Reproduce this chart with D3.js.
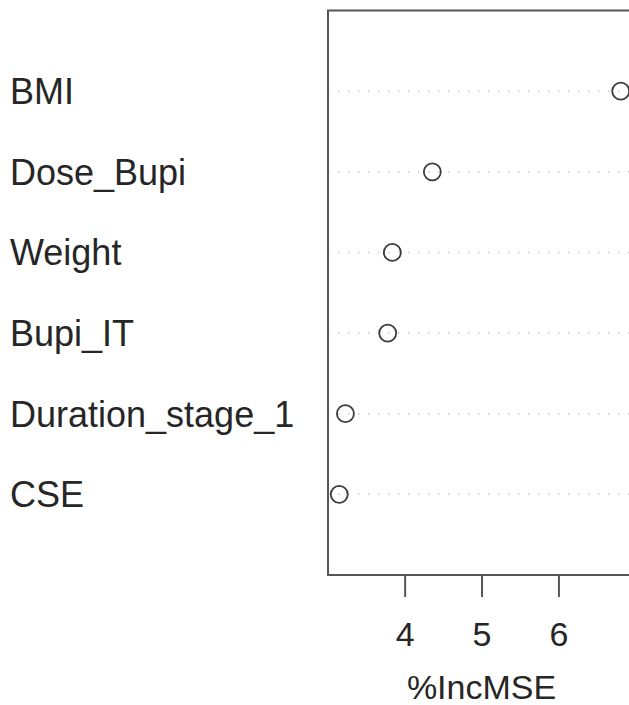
<!DOCTYPE html>
<html>
<head>
<meta charset="utf-8">
<script src="https://cdn.jsdelivr.net/npm/d3@7"></script>
<style>
  body { margin: 0; background: #fff; }
  text { font-family: "Liberation Sans", Arial, sans-serif; fill: #262626; }
</style>
</head>
<body>
<script>
// Data
var variables = ["BMI", "Dose_Bupi", "Weight", "Bupi_IT", "Duration_stage_1", "CSE"];
var incMSE = [6.81, 4.36, 3.84, 3.78, 3.23, 3.15];
var tickValues = [4, 5, 6];

var width = 629;
var height = 705;
var plotLeft = 328;
var plotTop = 10.5;
var plotBottom = 575;

// Skalaer (R dotchart: 4% extension of the data range)
var lo = d3.min(incMSE), hi = d3.max(incMSE);
var pad = (hi - lo) * 0.04;
var xScale = d3.scaleLinear().domain([lo - pad, hi + pad]).range([plotLeft, 632]);

// rows go from bottom (1) to top (n)
var n = variables.length;
var yScale = d3.scaleLinear().domain([0, n + 1]).range([plotBottom, plotTop]);
function rowY(i) {
  return yScale(n - i);
}

var svg = d3.select("body").append("svg").attr("width", width).attr("height", height);

// Dotted guide lines
svg.selectAll(".guide")
  .data(variables)
  .enter()
  .append("line")
  .attr("class", "guide")
  .attr("x1", plotLeft)
  .attr("x2", width)
  .attr("y1", function(d, i) { return rowY(i); })
  .attr("y2", function(d, i) { return rowY(i); })
  .attr("stroke", "#c8c8c8")
  .attr("stroke-width", 1.5)
  .attr("stroke-dasharray", "1.5,8.5");

// Frame
svg.append("rect")
  .attr("x", plotLeft)
  .attr("y", plotTop)
  .attr("width", 700)
  .attr("height", plotBottom - plotTop)
  .attr("fill", "none")
  .attr("stroke", "#555")
  .attr("stroke-width", 2);

// Points
svg.selectAll(".pt")
  .data(incMSE)
  .enter()
  .append("circle")
  .attr("class", "pt")
  .attr("cx", function(d) { return xScale(d); })
  .attr("cy", function(d, i) { return rowY(i); })
  .attr("r", 8.5)
  .attr("fill", "none")
  .attr("stroke", "#3a3a3a")
  .attr("stroke-width", 1.8);

// Labels
svg.selectAll(".lab")
  .data(variables)
  .enter()
  .append("text")
  .attr("class", "lab")
  .attr("x", 10)
  .attr("y", function(d, i) { return rowY(i); })
  .attr("dy", "0.36em")
  .style("font-size", "36px")
  .text(function(d) { return d; });

// Aksen
var xAxis = d3.axisBottom(xScale).tickValues(tickValues).tickFormat(d3.format("d")).tickSize(22).tickPadding(25);
var ax = svg.append("g").attr("transform", "translate(0," + plotBottom + ")").call(xAxis);
ax.select(".domain").remove();
ax.selectAll(".tick line").attr("stroke", "#555").attr("stroke-width", 2);
ax.selectAll(".tick text")
  .style("font-size", "34px")
  .style("font-family", "Liberation Sans, Arial, sans-serif")
  .attr("fill", "#262626");

svg.append("text")
  .attr("x", xScale(5))
  .attr("y", 699)
  .attr("text-anchor", "middle")
  .style("font-size", "34px")
  .text("%IncMSE");
</script>
</body>
</html>
